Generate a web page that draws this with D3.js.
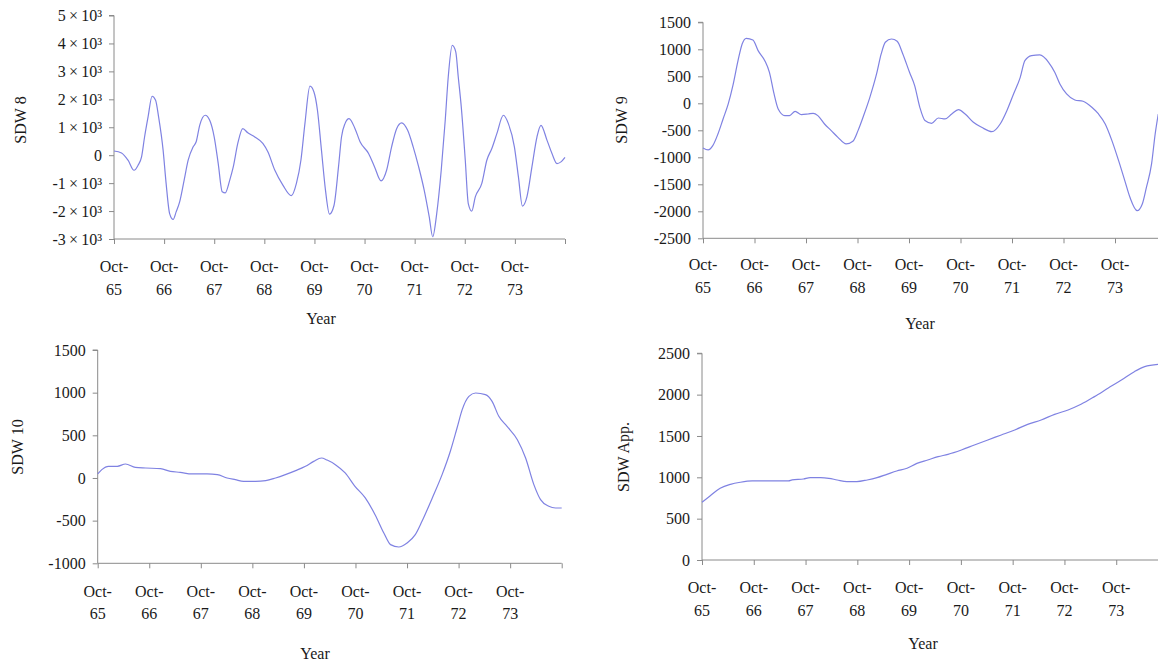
<!DOCTYPE html>
<html>
<head>
<meta charset="utf-8">
<script src="https://cdn.jsdelivr.net/npm/d3@7/dist/d3.min.js"></script>
<style>
  html, body { margin: 0; padding: 0; background: #fff; }
  svg { display: block; }
  text { font-family: "Liberation Serif", "Times New Roman", serif; fill: #1a1a1a; }
</style>
</head>
<body>
<svg id="chart" width="1158" height="661"></svg>
<script>
// ---- Data (x = years since Oct-65) ----
const tickLabelsTop = ["Oct-", "Oct-", "Oct-", "Oct-", "Oct-", "Oct-", "Oct-", "Oct-", "Oct-"];
const tickLabelsBottom = ["65", "66", "67", "68", "69", "70", "71", "72", "73"];
const yearTicks = [0, 1, 2, 3, 4, 5, 6, 7, 8, 9];

const sdw8T = [0, 0.15, 0.28, 0.4, 0.48, 0.55, 0.61, 0.68, 0.76, 0.83, 0.89, 0.98, 1.04, 1.11, 1.18, 1.24, 1.31, 1.4, 1.48, 1.58, 1.64, 1.71, 1.82, 1.91, 2.0, 2.08, 2.16, 2.22, 2.31, 2.38, 2.47, 2.57, 2.67, 2.81, 2.97, 3.07, 3.21, 3.37, 3.54, 3.64, 3.73, 3.81, 3.91, 3.99, 4.06, 4.14, 4.22, 4.3, 4.39, 4.48, 4.54, 4.61, 4.69, 4.81, 4.91, 5.08, 5.2, 5.33, 5.44, 5.54, 5.64, 5.74, 5.86, 5.97, 6.08, 6.19, 6.29, 6.36, 6.44, 6.53, 6.61, 6.67, 6.75, 6.82, 6.87, 6.93, 7.01, 7.07, 7.14, 7.21, 7.34, 7.44, 7.54, 7.64, 7.77, 7.87, 7.99, 8.07, 8.15, 8.24, 8.34, 8.44, 8.52, 8.64, 8.74, 8.84, 8.92, 9.0];
const sdw8V = [150, 80, -180, -540, -360, -60, 650, 1370, 2110, 1970, 1370, 180, -1010, -2090, -2300, -2030, -1670, -890, -180, 300, 480, 1070, 1430, 1250, 650, -300, -1310, -1350, -890, -420, 420, 950, 800, 650, 420, 120, -540, -1070, -1450, -1010, -180, 1130, 2470, 2260, 1610, 180, -1250, -2110, -1800, -420, 650, 1130, 1310, 950, 480, 60, -420, -920, -540, 300, 950, 1160, 890, 300, -420, -1250, -2200, -2920, -2090, -540, 1250, 2800, 3930, 3700, 2800, 1730, -180, -1730, -2000, -1490, -1010, -180, 240, 770, 1430, 1130, 300, -770, -1820, -1490, -420, 650, 1070, 540, 60, -300, -240, -80];

const sdw9T = [0, 0.1, 0.19, 0.29, 0.39, 0.49, 0.58, 0.68, 0.76, 0.84, 0.97, 1.07, 1.2, 1.29, 1.38, 1.46, 1.59, 1.68, 1.79, 1.91, 2.04, 2.14, 2.23, 2.36, 2.49, 2.62, 2.78, 2.91, 3.01, 3.13, 3.24, 3.37, 3.46, 3.54, 3.66, 3.77, 3.88, 4.01, 4.11, 4.21, 4.31, 4.44, 4.57, 4.7, 4.83, 4.96, 5.09, 5.25, 5.41, 5.61, 5.77, 5.9, 6.03, 6.16, 6.25, 6.38, 6.54, 6.71, 6.83, 6.93, 7.06, 7.22, 7.38, 7.55, 7.68, 7.81, 7.94, 8.07, 8.19, 8.29, 8.43, 8.53, 8.61, 8.71, 8.78, 8.84];
const sdw9V = [-827, -864, -784, -568, -290, -12, 327, 790, 1099, 1204, 1173, 975, 790, 574, 173, -105, -228, -228, -148, -210, -198, -185, -228, -383, -506, -630, -753, -704, -506, -198, 111, 543, 914, 1130, 1191, 1148, 914, 574, 327, -74, -320, -370, -272, -290, -198, -117, -198, -352, -444, -525, -383, -136, 173, 481, 790, 883, 895, 759, 574, 358, 173, 62, 37, -74, -198, -383, -691, -1062, -1432, -1741, -1988, -1864, -1556, -1123, -568, -198];

const sdw10T = [0, 0.08, 0.21, 0.38, 0.54, 0.73, 0.93, 1.22, 1.41, 1.6, 1.83, 2.12, 2.32, 2.51, 2.67, 2.83, 3.06, 3.26, 3.45, 3.64, 3.84, 4.03, 4.19, 4.34, 4.45, 4.61, 4.8, 4.99, 5.19, 5.38, 5.55, 5.68, 5.84, 6.0, 6.16, 6.29, 6.49, 6.68, 6.84, 6.97, 7.07, 7.2, 7.33, 7.52, 7.65, 7.78, 7.94, 8.14, 8.3, 8.46, 8.59, 8.75, 8.88, 9.0];
const sdw10V = [47, 98, 137, 137, 164, 125, 117, 109, 78, 66, 47, 47, 39, 0, -20, -39, -39, -31, 0, 39, 86, 137, 195, 234, 210, 156, 59, -98, -234, -430, -645, -781, -809, -762, -664, -508, -234, 39, 313, 586, 801, 957, 996, 977, 898, 723, 605, 449, 234, -78, -254, -332, -352, -352];

const sdwAppT = [0, 0.16, 0.35, 0.55, 0.74, 0.97, 1.19, 1.45, 1.67, 1.74, 1.96, 2.09, 2.29, 2.45, 2.61, 2.8, 2.99, 3.19, 3.38, 3.57, 3.76, 3.96, 4.15, 4.36, 4.56, 4.75, 5.01, 5.26, 5.52, 5.78, 6.04, 6.29, 6.55, 6.81, 7.07, 7.32, 7.58, 7.84, 8.1, 8.35, 8.55, 8.81];
const sdwAppV = [698, 778, 867, 915, 940, 956, 956, 956, 956, 968, 980, 996, 996, 988, 968, 948, 948, 968, 996, 1036, 1077, 1109, 1169, 1210, 1250, 1278, 1331, 1391, 1452, 1512, 1573, 1641, 1694, 1762, 1815, 1883, 1976, 2077, 2177, 2278, 2339, 2367];

const ticks8 = [-3000, -2000, -1000, 0, 1000, 2000, 3000, 4000, 5000];
const ticks9 = [-2500, -2000, -1500, -1000, -500, 0, 500, 1000, 1500];
const ticks10 = [-1000, -500, 0, 500, 1000, 1500];
const ticksApp = [0, 500, 1000, 1500, 2000, 2500];

// ---- Drawing ----
const svg = d3.select("#chart");
const lineColor = "#7f82e2";
const axisColor = "#8a8a8a";
const FS = "16px";

function fmtSci(v) {
  if (v === 0) return "0";
  return (v / 1000) + "\u2009\u00d7\u200910\u00b3";
}

function panel(cfg) {
  const g = svg.append("g");
  const x = d3.scaleLinear().domain([0, 9]).range([cfg.x0, cfg.x1]);
  const y = d3.scaleLinear().domain(cfg.yDomain).range([cfg.yBottom, cfg.yTop]);

  // Y axis
  const yAxis = d3.axisLeft(y).tickValues(cfg.yTicks).tickSize(5).tickPadding(7)
    .tickFormat(cfg.fmt || (d => String(d)));
  const ya = g.append("g").attr("transform", `translate(${cfg.x0},0)`).call(yAxis);
  ya.select(".domain").attr("stroke", axisColor).attr("d", `M-5,${y(cfg.yDomain[1])}H0V${cfg.yBottom}`);
  ya.selectAll(".tick line").attr("stroke", axisColor);
  ya.selectAll(".tick text").style("font-size", FS).style("font-family", "Liberation Serif").attr("fill", "#1a1a1a");

  // X axis
  const xAxis = d3.axisBottom(x).tickValues(yearTicks).tickSize(5).tickFormat("");
  const xa = g.append("g").attr("transform", `translate(0,${cfg.yBottom})`).call(xAxis);
  xa.select(".domain").attr("stroke", axisColor).attr("d", `M${cfg.x0},0H${cfg.x1}`);
  xa.selectAll(".tick line").attr("stroke", axisColor);

  const labs = g.append("g");
  tickLabelsTop.forEach((lab, i) => {
    labs.append("text").attr("x", x(i)).attr("y", cfg.lab1Y).attr("text-anchor", "middle")
      .style("font-size", FS).text(lab);
    labs.append("text").attr("x", x(i)).attr("y", cfg.lab2Y).attr("text-anchor", "middle")
      .style("font-size", FS).text(tickLabelsBottom[i]);
  });

  // Titles
  g.append("text").attr("x", cfg.xTitleX).attr("y", cfg.xTitleY).attr("text-anchor", "middle")
    .style("font-size", FS).text("Year");
  g.append("text").attr("transform", `translate(${cfg.yTitleX},${cfg.yTitleY}) rotate(-90)`)
    .attr("text-anchor", "middle").attr("dy", "0.35em").style("font-size", FS).text(cfg.yTitle);

  // Line
  const pts = cfg.t.map((t, i) => [t, cfg.v[i]]);
  const line = d3.line().x(d => x(d[0])).y(d => y(d[1])).curve(d3.curveMonotoneX);
  g.append("path").datum(pts).attr("d", line).attr("fill", "none")
    .attr("stroke", lineColor).attr("stroke-width", 1.2);
}

panel({ x0: 114, x1: 565, yDomain: [-3000, 5000], yTop: 15.5, yBottom: 239, yTicks: ticks8, fmt: fmtSci,
  lab1Y: 272, lab2Y: 295, xTitleX: 321, xTitleY: 324, yTitleX: 20, yTitleY: 120, yTitle: "SDW 8",
  t: sdw8T, v: sdw8V });
panel({ x0: 703, x1: 1166.5, yDomain: [-2500, 1500], yTop: 22.3, yBottom: 238.3, yTicks: ticks9,
  lab1Y: 270, lab2Y: 293, xTitleX: 920, xTitleY: 329, yTitleX: 621, yTitleY: 120, yTitle: "SDW 9",
  t: sdw9T, v: sdw9V });
panel({ x0: 97.7, x1: 561.7, yDomain: [-1000, 1500], yTop: 350, yBottom: 563.3, yTicks: ticks10,
  lab1Y: 597, lab2Y: 619, xTitleX: 315, xTitleY: 659, yTitleX: 17, yTitleY: 447, yTitle: "SDW 10",
  t: sdw10T, v: sdw10V });
panel({ x0: 702, x1: 1168, yDomain: [0, 2500], yTop: 353.3, yBottom: 560, yTicks: ticksApp,
  lab1Y: 593, lab2Y: 616, xTitleX: 923, xTitleY: 649, yTitleX: 623, yTitleY: 457, yTitle: "SDW  App.",
  t: sdwAppT, v: sdwAppV });
</script>
</body>
</html>
